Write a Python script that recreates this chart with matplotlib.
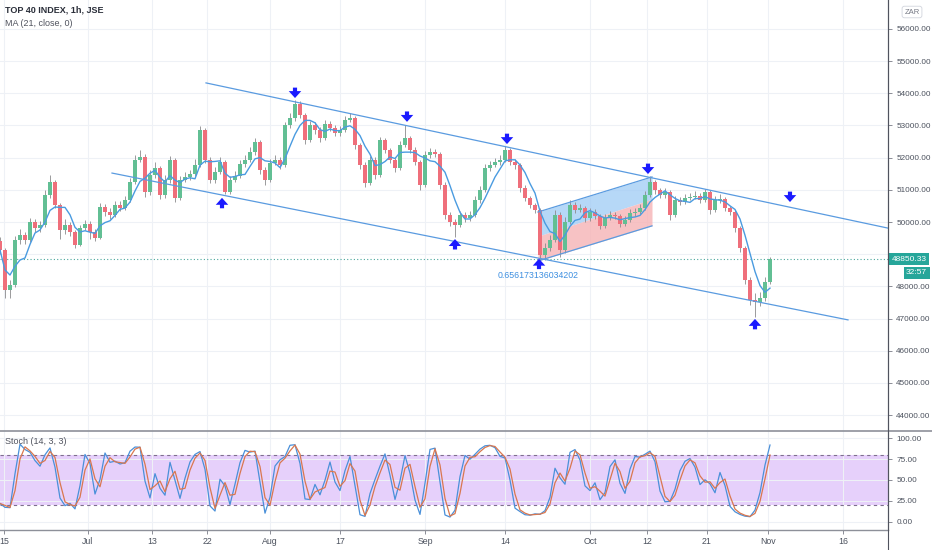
import numpy as np
import pandas as pd
import matplotlib
matplotlib.use('Agg')
import matplotlib.pyplot as plt
from matplotlib.lines import Line2D
from matplotlib import transforms

plt.rcParams['font.family'] = ['Liberation Sans', 'DejaVu Sans']

# TOP 40 INDEX, 1h bars squeezed to about two bars per trading day
open_first = 49400
closes = [49130, 47890, 48040, 49440, 49600, 49440, 50000, 49810, 49910, 50840,
          51240, 50530, 49750, 49910, 49690, 49290, 49810, 49940, 49690, 49500,
          50470, 50310, 50220, 50530, 50430, 50680, 51240, 51930, 52020, 50930,
          51460, 51680, 50840, 51300, 51930, 50750, 51300, 51400, 51490, 51770,
          52860, 51930, 51300, 51550, 51860, 50930, 51300, 51430, 51800, 51930,
          52170, 52480, 51620, 51300, 51830, 51930, 51770, 53010, 53230, 53670,
          53320, 52550, 53010, 52860, 52610, 53040, 52920, 52760, 52860, 53170,
          53230, 52390, 51770, 51210, 51930, 51460, 52550, 52240, 51930, 51680,
          52390, 52610, 52240, 51860, 51150, 52080, 52170, 52110, 51150, 50220,
          50000, 49910, 50220, 50120, 50220, 50680, 50990, 51680, 51770, 51860,
          51930, 52240, 51860, 51770, 51060, 50750, 50530, 50370, 48980, 49190,
          49440, 50220, 49130, 50000, 50530, 50370, 50430, 50120, 50310, 50190,
          49880, 50120, 50220, 50190, 49940, 50060, 50280, 50310, 50430, 50840,
          51240, 50990, 50840, 50930, 50220, 50680, 50620, 50750, 50780, 50810,
          50680, 50930, 50370, 50680, 50720, 50430, 50310, 49810, 49190, 48200,
          47580, 47520, 47640, 48140, 48850.33]
highs = [49520, 49200, 48200, 49560, 49780, 49700, 50120, 50090, 50040, 50990,
         51450, 51320, 50600, 50100, 50010, 49760, 49900, 50070, 50020, 49780,
         50600, 50560, 50420, 50650, 50640, 50800, 51370, 52080, 52230, 52100,
         51620, 51860, 51750, 51450, 52060, 51990, 51420, 51560, 51620, 51950,
         52980, 52920, 52010, 51700, 52010, 51920, 51420, 51580, 51920, 52080,
         52320, 52620, 52550, 51700, 51960, 52070, 52020, 53120, 53400, 53800,
         53760, 53390, 53150, 53120, 52950, 53180, 53130, 53010, 52990, 53300,
         53400, 53290, 52460, 51860, 52040, 52010, 52650, 52620, 52310, 52000,
         52520, 53020, 52680, 52320, 51940, 52200, 52290, 52260, 52180, 51230,
         50310, 50090, 50340, 50300, 50340, 50800, 51110, 51800, 51900, 52000,
         52080, 52350, 52300, 51950, 51830, 51140, 50820, 50600, 50420, 49350,
         49600, 50380, 50300, 50150, 50680, 50620, 50560, 50500, 50440, 50400,
         50260, 50250, 50350, 50320, 50260, 50200, 50400, 50440, 50560, 50960,
         51420, 51310, 51060, 51060, 50990, 50800, 50780, 50860, 50900, 50950,
         50900, 51040, 50990, 50800, 50860, 50780, 50500, 50380, 49880, 49260,
         48280, 47800, 47840, 48300, 48910]
lows = [49020, 47650, 47640, 47980, 49330, 49320, 49380, 49700, 49690, 49850,
        50760, 50430, 49460, 49640, 49580, 49190, 49240, 49740, 49460, 49420,
        49460, 50200, 50100, 50160, 50340, 50380, 50620, 51180, 51850, 50780,
        50850, 51380, 50700, 50760, 51220, 50620, 50690, 51230, 51320, 51420,
        51700, 51820, 51200, 51220, 51480, 50880, 50880, 51240, 51360, 51720,
        51860, 52090, 51500, 51150, 51250, 51760, 51650, 51700, 52920, 53150,
        53220, 52420, 52480, 52740, 52480, 52560, 52830, 52660, 52680, 52800,
        53100, 52280, 51640, 51080, 51150, 51330, 51400, 52130, 51830, 51560,
        51620, 52320, 52140, 51760, 50980, 51080, 51990, 52010, 51020, 50080,
        49880, 49520, 49830, 50010, 50040, 50150, 50600, 50920, 51590, 51700,
        51780, 51850, 51760, 51660, 50940, 50640, 50420, 50270, 48850, 48830,
        49100, 49380, 48900, 49050, 49930, 50270, 50300, 50000, 50030, 50090,
        49780, 49800, 50050, 50090, 49830, 49870, 49990, 50200, 50250, 50370,
        50770, 50880, 50740, 50760, 50060, 50150, 50540, 50560, 50680, 50700,
        50590, 50610, 50250, 50300, 50600, 50340, 50220, 49700, 49080, 48060,
        47420, 47040, 47380, 47560, 48060]

tick_pos = [0.8, 17.6, 30.4, 41.4, 54, 68, 85, 101, 118, 129.4, 141.4, 153.6, 168.6]
tick_labels = ['15', 'Jul', '13', '22', 'Aug', '17', 'Sep', '14', 'Oct', '12', '21', 'Nov', '16']
price_ticks = list(range(44000, 56001, 1000))
stoch_ticks = [0, 25, 50, 75, 100]

# drawings (bar index, price)
upper_x, upper_y = [41.2, 177.6], [54320, 49810]
lower_x, lower_y = [22.4, 169.6], [51520, 46960]
chan_x = [107.6, 130.4]
chan_top = [50310, 51400]
chan_mid = [49560, 50710]
chan_bot = [48790, 49880]
down_bars = [59, 81.4, 101.4, 129.6, 158]
down_tips = [53850, 53110, 52420, 51490, 50620]
up_bars = [44.4, 91, 107.8, 151]
up_tips = [50750, 49470, 48860, 46990]

MA_BARS = 5
K_LEN, K_SMOOTH, D_SMOOTH = 3, 2, 2

df = pd.DataFrame({'close': closes, 'high': highs, 'low': lows})
df['open'] = [open_first] + closes[:-1]
df['ma'] = df['close'].rolling(MA_BARS, min_periods=1).mean()
ll = df['low'].rolling(K_LEN, min_periods=1).min()
hh = df['high'].rolling(K_LEN, min_periods=1).max()
raw_k = 100 * (df['close'] - ll) / (hh - ll)
df['k'] = raw_k.rolling(K_SMOOTH, min_periods=1).mean()
df['d'] = df['k'].rolling(D_SMOOTH, min_periods=1).mean()
x = np.arange(len(df))

W, H = 932, 550
fig = plt.figure(figsize=(W / 100, H / 100), dpi=100)
ax = fig.add_axes([0, 120 / H, 888 / W, 430 / H])
ax2 = fig.add_axes([0, 20 / H, 888 / W, 100 / H], sharex=ax)

grid_c = '#eef1f6'
txt_c = '#4c525e'

# candles
up = df['close'] >= df['open']
body_c = np.where(up, '#62bf94', '#ef6f7b')
bottom = np.minimum(df['open'], df['close'])
height = np.maximum((df['close'] - df['open']).abs(), 20)
ax.vlines(x, df['low'], df['high'], color='#8a8a8c', lw=0.6, zorder=2)
ax.bar(x, height, bottom=bottom, width=0.65, color=body_c, lw=0, zorder=3)
ax.plot(x, df['ma'], color='#4a9be0', lw=1.0, zorder=4)

# channel
line_c = '#5a9be0'
ax.plot(upper_x, upper_y, color=line_c, lw=0.9, zorder=4)
ax.plot(lower_x, lower_y, color=line_c, lw=0.9, zorder=4)
ax.fill_between(chan_x, chan_mid, chan_top, color='#9ecbf5', alpha=0.75, lw=0, zorder=1)
ax.fill_between(chan_x, chan_bot, chan_mid, color='#f6b3b6', alpha=0.8, lw=0, zorder=1)
for ys in (chan_top, chan_bot):
    ax.plot(chan_x, ys, color=line_c, lw=0.9, zorder=4)
ax.text(chan_x[0], 48330, '0.656173136034202', color='#3d8fe0', fontsize=6.3,
        ha='center', va='center', zorder=5)

arrow_kw = dict(arrowstyle='simple,head_length=0.5,head_width=0.9,tail_width=0.3',
                color='#1a1aff', lw=0, mutation_scale=10, shrinkA=0, shrinkB=0)
for b, p in zip(down_bars, down_tips):
    ax.annotate('', xy=(b, p), xytext=(0, 7.5), textcoords='offset points',
                arrowprops=arrow_kw, zorder=6)
for b, p in zip(up_bars, up_tips):
    ax.annotate('', xy=(b, p), xytext=(0, -7.5), textcoords='offset points',
                arrowprops=arrow_kw, zorder=6)

last = closes[-1]
ax.axhline(last, color='#4aa79c', ls=(0, (1, 2)), lw=0.8, zorder=1)

ax.set_xlim(0, 177.6)
ax.set_ylim(43540, 56895)
ax.set_xticks(tick_pos)
ax.set_yticks(price_ticks)
# 49000 sits under the last-price label
ax.set_yticklabels(['' if v == 49000 else f'{v:.2f}' for v in price_ticks])
ax.yaxis.tick_right()
ax.tick_params(axis='y', length=3, width=0.6, color='#787b86', labelsize=5.9,
               labelcolor=txt_c, pad=3)
ax.tick_params(axis='x', length=0, labelbottom=False)
ax.grid(True, color=grid_c, lw=0.8, zorder=0)
ax.set_axisbelow(True)
for s in ['top', 'left', 'bottom']:
    ax.spines[s].set_visible(False)
ax.spines['right'].set_color('#50535e')
ax.spines['right'].set_linewidth(0.8)

lbl = transforms.blended_transform_factory(ax.transAxes, ax.transData)
ax.text(1.004, last, '48850.33', transform=lbl, ha='left', va='center', fontsize=6.0,
        color='white', clip_on=False, zorder=10,
        bbox=dict(boxstyle='square,pad=0.3', fc='#26a69a', ec='none'))
ax.annotate('32:57', xy=(1, last), xycoords=lbl, xytext=(13, -10), textcoords='offset points',
            ha='left', va='center', fontsize=6.0, color='white', annotation_clip=False, zorder=10,
            bbox=dict(boxstyle='square,pad=0.3', fc='#26a69a', ec='none'))

# stochastic
ax2.axhspan(20, 80, color='#e6d0fb', lw=0, zorder=0)
ax2.axhline(80, color='#7e6f8e', lw=0.8, ls=(0, (3, 3)))
ax2.axhline(20, color='#7e6f8e', lw=0.8, ls=(0, (3, 3)))
ax2.plot(x, df['k'], color='#4a90d9', lw=0.9, zorder=3)
ax2.plot(x, df['d'], color='#d9774f', lw=0.9, zorder=3)
ax2.set_ylim(-9.6, 109.6)
ax2.set_yticks(stoch_ticks)
ax2.set_yticklabels([f'{v:.2f}' for v in stoch_ticks])
ax2.yaxis.tick_right()
ax2.tick_params(axis='y', length=3, width=0.6, color='#787b86', labelsize=5.9,
                labelcolor=txt_c, pad=3)
ax2.set_xticks(tick_pos)
ax2.set_xticklabels(tick_labels)
ax2.tick_params(axis='x', length=3, width=0.6, color='#787b86', labelsize=6.3,
                labelcolor=txt_c, pad=2)
ax2.grid(True, color=grid_c, lw=0.8, zorder=0)
ax2.set_axisbelow(True)
for s in ['top', 'left', 'bottom']:
    ax2.spines[s].set_visible(False)
ax2.spines['right'].set_color('#50535e')
ax2.spines['right'].set_linewidth(0.8)

# panel borders
fig.add_artist(Line2D([0, 1], [1 - 431 / H] * 2, color='#8d9099', lw=1.2))
fig.add_artist(Line2D([0, 888 / W], [1 - 530 / H] * 2, color='#8d9099', lw=1.0))
fig.add_artist(Line2D([888 / W] * 2, [0, 1], color='#50535e', lw=0.8))

fig.text(5 / W, 1 - 10 / H, 'TOP 40 INDEX, 1h, JSE', fontsize=6.5, weight='bold',
         color='#2a2e39', va='center')
fig.text(5 / W, 1 - 24 / H, 'MA (21, close, 0)', fontsize=6.5, color='#50535e', va='center')
fig.text(5 / W, 1 - 441 / H, 'Stoch (14, 3, 3)', fontsize=6.5, color='#50535e', va='center')
fig.text(912 / W, 1 - 12 / H, 'ZAR', fontsize=5.5, color='#787b86', ha='center', va='center',
         bbox=dict(boxstyle='round,pad=0.3', fc='white', ec='#d1d4dc', lw=0.6))

fig.savefig('out.png', dpi=100)
